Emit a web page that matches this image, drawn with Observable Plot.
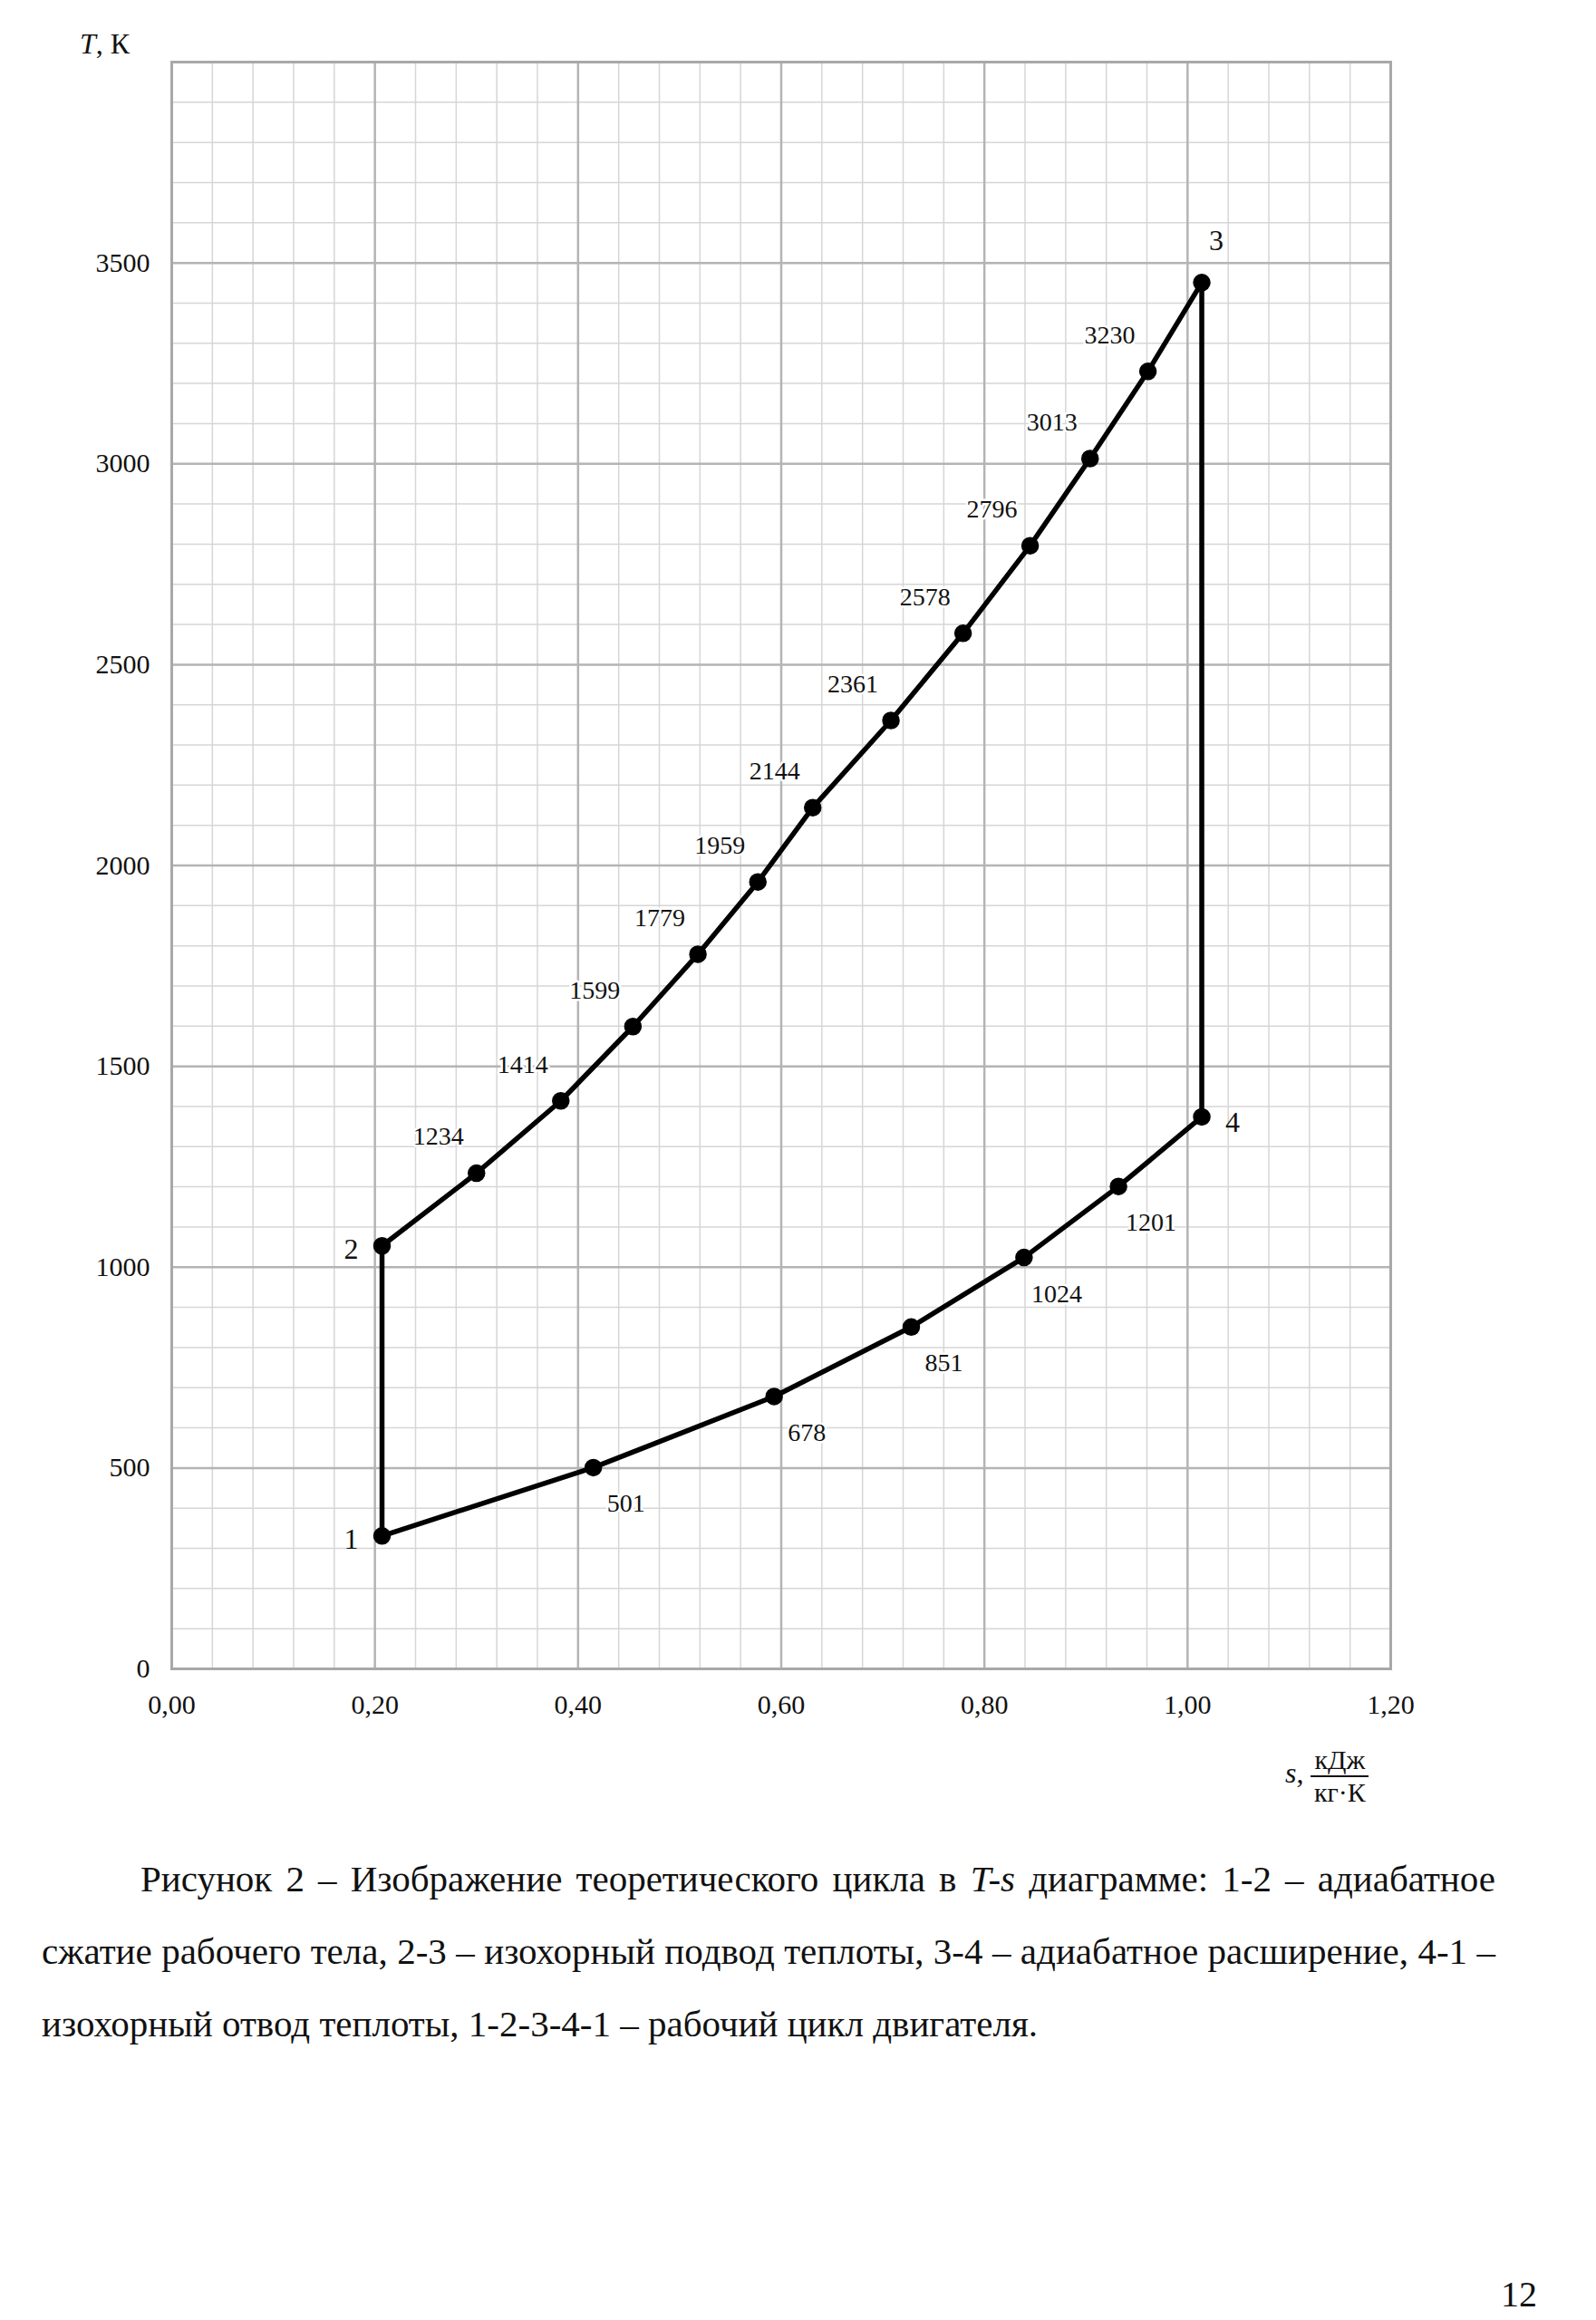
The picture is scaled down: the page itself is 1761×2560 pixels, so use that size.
<!DOCTYPE html>
<html>
<head>
<meta charset="utf-8">
<script src="https://cdn.jsdelivr.net/npm/d3@7"></script>
<script src="https://cdn.jsdelivr.net/npm/@observablehq/plot@0.6"></script>
<style>
  html, body { margin: 0; padding: 0; background: #fff; }
  body { width: 1761px; height: 2560px; position: relative; overflow: hidden;
         font-family: "Liberation Serif", "Times New Roman", serif; color: #111; }
  #chart { position: absolute; left: 0; top: 0; }
  .abs { position: absolute; white-space: nowrap; }
  .cap { position: absolute; left: 46px; width: 1604px; font-size: 41px; line-height: 80px; }
  .cap div { text-align: justify; text-align-last: justify; white-space: nowrap; }
  .cap div.last { text-align-last: left; }
  .frac { display: inline-block; vertical-align: middle; text-align: center; font-size: 30px; line-height: 34px; }
  .frac .num { border-bottom: 2px solid #111; padding: 0 4px; }
</style>
</head>
<body>
<div id="chart"></div>

<div class="abs" style="left:88px; top:30px; font-size:32px;"><i>T</i>, К</div>

<div class="abs" style="left:1418px; top:1925px; font-size:32px;">
  <i>s</i>, <span class="frac"><div class="num">кДж</div><div>кг·К</div></span>
</div>

<div class="cap" style="top:2033px;">
  <div style="padding-left:109px;">Рисунок 2 – Изображение теоретического цикла в <i>T-s</i> диаграмме: 1-2 – адиабатное</div>
  <div>сжатие рабочего тела, 2-3 – изохорный подвод теплоты, 3-4 – адиабатное расширение, 4-1 –</div>
  <div class="last">изохорный отвод теплоты, 1-2-3-4-1 – рабочий цикл двигателя.</div>
</div>

<div class="abs" style="left:1656px; top:2508px; font-size:40px;">12</div>

<script>
// ---- Axis ticks ----
const xTicks = [0, 0.2, 0.4, 0.6, 0.8, 1.0, 1.2];
const xMinor = [0.04, 0.08, 0.12, 0.16, 0.24, 0.28, 0.32, 0.36, 0.44, 0.48, 0.52, 0.56,
                0.64, 0.68, 0.72, 0.76, 0.84, 0.88, 0.92, 0.96, 1.04, 1.08, 1.12, 1.16];
const yTicks = [0, 500, 1000, 1500, 2000, 2500, 3000, 3500];
const yGridMajor = [0, 500, 1000, 1500, 2000, 2500, 3000, 3500, 4000];
const yMinor = [100, 200, 300, 400, 600, 700, 800, 900, 1100, 1200, 1300, 1400, 1600, 1700, 1800, 1900,
                2100, 2200, 2300, 2400, 2600, 2700, 2800, 2900, 3100, 3200, 3300, 3400,
                3600, 3700, 3800, 3900];

// ---- Cycle corner points (1, 2, 3, 4) ----
const cornerNames = ["1", "2", "3", "4"];
const cornerS = [0.207, 0.207, 1.014, 1.014];
const cornerT = [331, 1053, 3451, 1374];

// ---- Intermediate points on the heat-addition process 2-3 ----
const upperS = [0.300, 0.383, 0.454, 0.518, 0.577, 0.631, 0.708, 0.779, 0.845, 0.904, 0.961];
const upperT = [1234, 1414, 1599, 1779, 1959, 2144, 2361, 2578, 2796, 3013, 3230];
const upperLabels = ["1234", "1414", "1599", "1779", "1959", "2144", "2361", "2578", "2796", "3013", "3230"];

// ---- Intermediate points on the heat-rejection process 4-1 ----
const lowerS = [0.932, 0.839, 0.728, 0.593, 0.415];
const lowerT = [1201, 1024, 851, 678, 501];
const lowerLabels = ["1201", "1024", "851", "678", "501"];

// Build tables
const corners = cornerNames.map((n, i) => ({name: n, s: cornerS[i], T: cornerT[i]}));
const upper = upperS.map((s, i) => ({s, T: upperT[i], label: upperLabels[i]}));
const lower = lowerS.map((s, i) => ({s, T: lowerT[i], label: lowerLabels[i]}));

// closed cycle path 1 -> 2 -> ... -> 3 -> 4 -> ... -> 1
const cycle = [
  corners[0], corners[1],
  ...upper,
  corners[2], corners[3],
  ...lower,
  corners[0]
];
const allPoints = [...corners, ...upper, ...lower];

const fmtX = d => d.toFixed(2).replace(".", ",");

const chart = Plot.plot({
  width: 1761,
  height: 1920,
  marginLeft: 189,
  marginRight: 227,
  marginTop: 68,
  marginBottom: 79,
  style: {fontFamily: "Liberation Serif, Times New Roman, serif", fontSize: "30px", background: "#fff", color: "#111"},
  x: {domain: [0, 1.2]},
  y: {domain: [0, 4000]},
  marks: [
    Plot.ruleX(xMinor, {stroke: "#d6d6d6", strokeWidth: 1.5}),
    Plot.ruleY(yMinor, {stroke: "#d6d6d6", strokeWidth: 1.5}),
    Plot.ruleX(xTicks, {stroke: "#b4b4b4", strokeWidth: 2.5}),
    Plot.ruleY(yGridMajor, {stroke: "#b4b4b4", strokeWidth: 2.5}),
    Plot.frame({stroke: "#a8a8a8", strokeWidth: 3}),
    Plot.axisX({ticks: xTicks, tickSize: 0, tickPadding: 28, tickFormat: fmtX, label: null, fontSize: 30}),
    Plot.axisY({ticks: yTicks, tickSize: 0, tickPadding: 24, tickFormat: d => String(d), label: null, fontSize: 30}),
    Plot.line(cycle, {x: "s", y: "T", stroke: "#000", strokeWidth: 5.5, strokeLinejoin: "round", strokeLinecap: "round"}),
    Plot.dot(allPoints, {x: "s", y: "T", r: 9, fill: "#000", stroke: "#000"}),
    // labels on the upper process (upper-left of points)
    Plot.text(upper, {x: "s", y: "T", text: "label", dx: -42, dy: -40, fontSize: 28, fill: "#111",
      stroke: "#fff", strokeWidth: 5, paintOrder: "stroke"}),
    // labels on the lower process (lower-right of points)
    Plot.text(lower, {x: "s", y: "T", text: "label", dx: 36, dy: 40, fontSize: 28, fill: "#111",
      stroke: "#fff", strokeWidth: 5, paintOrder: "stroke"}),
    // corner labels
    Plot.text(corners.filter(d => d.name === "1" || d.name === "2"), {x: "s", y: "T", text: "name", dx: -34, dy: 4, fontSize: 32, fill: "#111"}),
    Plot.text(corners.filter(d => d.name === "3"), {x: "s", y: "T", text: "name", dx: 16, dy: -46, fontSize: 32, fill: "#111"}),
    Plot.text(corners.filter(d => d.name === "4"), {x: "s", y: "T", text: "name", dx: 34, dy: 6, fontSize: 32, fill: "#111"})
  ]
});
document.getElementById("chart").appendChild(chart);
</script>
</body>
</html>
